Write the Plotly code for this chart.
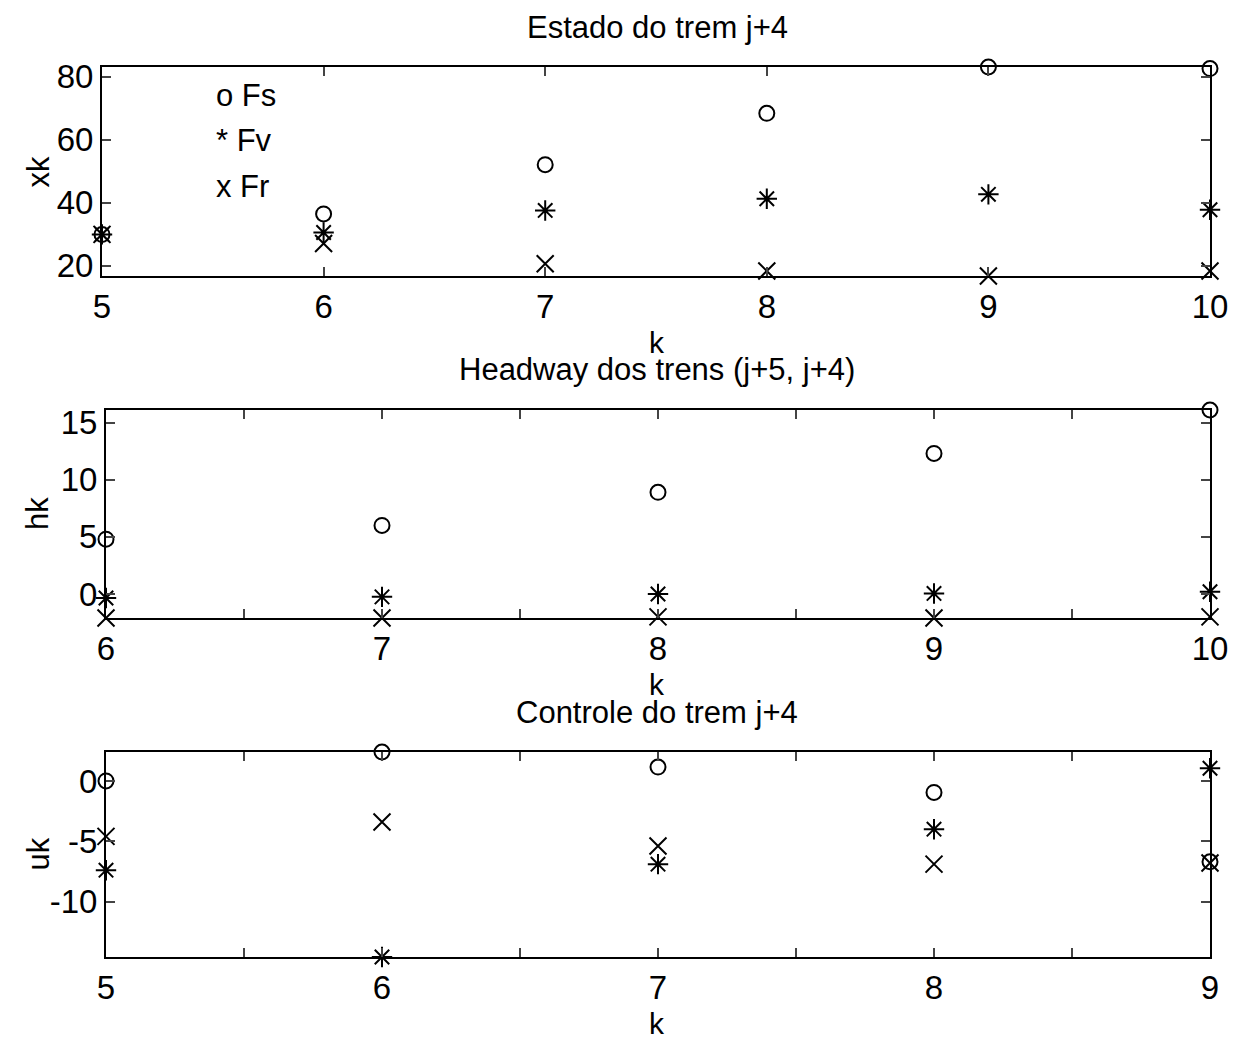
import plotly.graph_objects as go

# ---------------- data ----------------
k_state = [5, 6, 7, 8, 9, 10]
xk_Fs = [30.0, 36.5, 52.1, 68.4, 83.1, 82.6]
xk_Fv = [30.0, 30.6, 37.6, 41.3, 42.7, 37.8]
xk_Fr = [30.0, 27.1, 20.7, 18.4, 16.8, 18.4]

k_head = [6, 7, 8, 9, 10]
hk_Fs = [4.8, 6.0, 8.9, 12.3, 16.1]
hk_Fv = [-0.35, -0.25, 0.0, 0.05, 0.2]
hk_Fr = [-2.1, -2.1, -2.0, -2.1, -2.0]

k_ctrl = [5, 6, 7, 8, 9]
uk_Fs = [0.0, 2.4, 1.15, -0.95, -6.7]
uk_Fv = [-7.4, -14.6, -6.9, -4.0, 1.05]
uk_Fr = [-4.6, -3.4, -5.4, -6.9, -6.8]

titles = ["Estado do trem j+4", "Headway dos trens (j+5, j+4)", "Controle do trem j+4"]
ylabels = ["xk", "hk", "uk"]
legend_labels = ["o Fs", "* Fv", "x Fr"]

W, H = 1245, 1041
FONT = "Liberation Sans, Arial, Helvetica, sans-serif"

def py(px):
    return 1 - px / H

fig = go.Figure()

panels = [
    (k_state, [xk_Fs, xk_Fv, xk_Fr], (67, 276), (102, 1210), [20, 40, 60, 80], 1.0),
    (k_head, [hk_Fs, hk_Fv, hk_Fr], (410, 618), (106, 1210), [0, 5, 10, 15], 0.5),
    (k_ctrl, [uk_Fs, uk_Fv, uk_Fr], (752, 957), (106, 1210), [-10, -5, 0], 0.5),
]

symbols = [("circle-open", 15), ("asterisk-open", 17), ("x-thin-open", 17)]
names = ["Fs", "Fv", "Fr"]

layout = dict(
    width=W, height=H,
    margin=dict(l=0, r=0, t=0, b=0, autoexpand=False),
    paper_bgcolor="white", plot_bgcolor="white",
    showlegend=False,
    font=dict(family=FONT, color="black"),
)
annotations = []

for i, (ks, series, (ytop, ybot), (xl, xr), yt, xstep) in enumerate(panels):
    ax = "" if i == 0 else str(i + 1)
    for s, (sym, sz), nm in zip(series, symbols, names):
        fig.add_trace(go.Scatter(
            x=ks, y=s, mode="markers", name=nm,
            xaxis="x" + ax, yaxis="y" + ax, cliponaxis=False,
            marker=dict(symbol=sym, size=sz, color="black",
                        line=dict(color="black", width=2)),
        ))
    allv = [v for s in series for v in s]
    ymin, ymax = min(allv), max(allv)
    xmin, xmax = min(ks), max(ks)
    n = int(round((xmax - xmin) / xstep))
    xtv = [xmin + j * xstep for j in range(n + 1)]
    xtt = [str(int(v)) if abs(v - round(v)) < 1e-9 else "" for v in xtv]
    ytt = [str(v) for v in yt]
    layout["xaxis" + ax] = dict(
        domain=[xl / W, xr / W], range=[xmin, xmax], anchor="y" + ax,
        automargin=False,
        tickvals=xtv, ticktext=xtt, ticks="inside", ticklen=9, tickwidth=1.5,
        showline=True, linecolor="black", linewidth=2, mirror="ticks",
        showgrid=False, zeroline=False,
        tickfont=dict(size=33, family=FONT, color="black"),
    )
    layout["yaxis" + ax] = dict(
        domain=[py(ybot), py(ytop)], range=[ymin, ymax], anchor="x" + ax,
        automargin=False,
        tickvals=yt, ticktext=ytt, ticks="inside", ticklen=9, tickwidth=1.5,
        showline=True, linecolor="black", linewidth=2, mirror="ticks",
        showgrid=False, zeroline=False,
        tickfont=dict(size=33, family=FONT, color="black"),
    )
    # title
    annotations.append(dict(text=titles[i], xref="paper", yref="paper",
                            x=657 / W, y=py(ytop - 40), xanchor="center", yanchor="middle",
                            showarrow=False, font=dict(size=31, family=FONT, color="black")))
    # x label
    annotations.append(dict(text="k", xref="paper", yref="paper",
                            x=657 / W, y=py(ybot + 66), xanchor="center", yanchor="middle",
                            showarrow=False, font=dict(size=30, family=FONT, color="black")))
    # y label
    annotations.append(dict(text=ylabels[i], xref="paper", yref="paper",
                            x=38 / W, y=py((ytop + ybot) / 2), xanchor="center", yanchor="middle",
                            textangle=-90, showarrow=False,
                            font=dict(size=31, family=FONT, color="black")))

for j, lab in enumerate(legend_labels):
    annotations.append(dict(text=lab, xref="paper", yref="paper",
                            x=214 / W, y=py(96 + j * 45), xanchor="left", yanchor="middle",
                            showarrow=False, font=dict(size=31, family=FONT, color="black")))

layout["annotations"] = annotations
fig.update_layout(**layout)
fig.write_html("out.html")
